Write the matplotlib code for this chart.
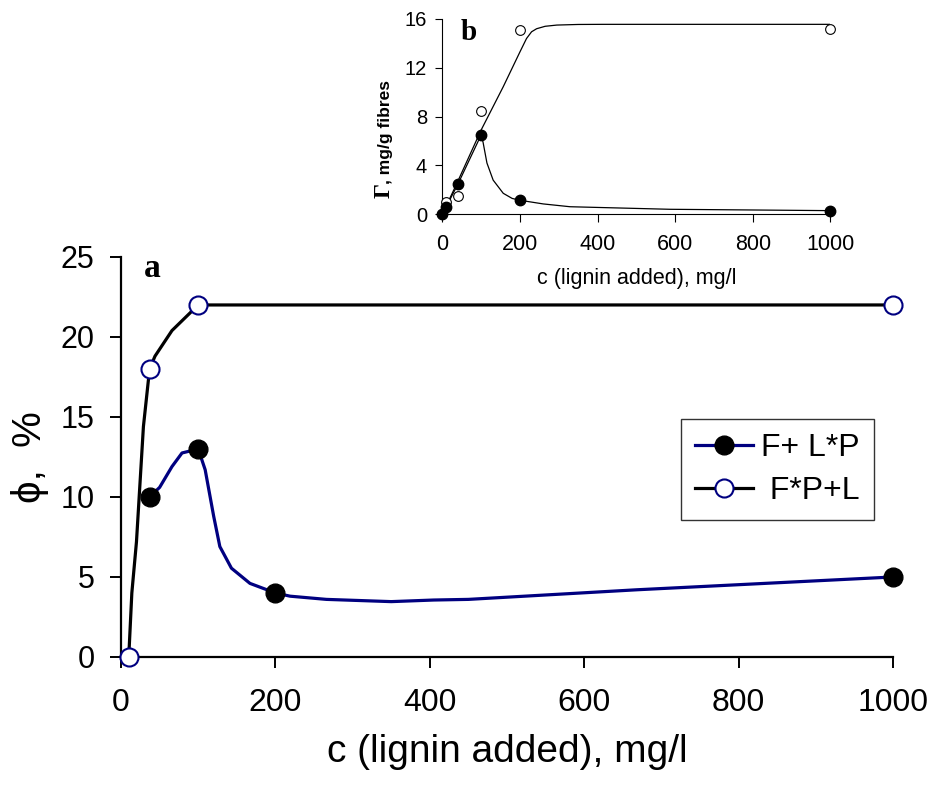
import matplotlib
matplotlib.use("Agg")
import matplotlib.pyplot as plt

plt.rcParams['font.family'] = ['Liberation Sans', 'DejaVu Sans']

# --- main plot (a): phi, % ---
# measured points
x_fpl = [10, 37, 100, 1000]
phi_fpl = [0, 18, 22, 22]            # F*P+L (open circles)
x_flp = [37, 100, 200, 1000]
phi_flp = [10, 13, 4, 5]             # F+ L*P (filled circles)

# smoothed curves as drawn in the figure
curve_fpl_x = [10, 14, 20, 29, 37, 44, 66, 100, 1000]
curve_fpl_y = [0, 4, 7.2, 14.4, 18, 18.8, 20.4, 22, 22]
curve_flp_x = [37, 50, 66, 79, 100, 109, 120, 128, 143, 167, 200, 219, 266, 350, 405, 450, 668, 1000]
curve_flp_y = [10, 10.6, 11.9, 12.75, 13, 11.7, 8.8, 6.9, 5.55, 4.6, 4, 3.8, 3.6, 3.46, 3.56, 3.6, 4.2, 5]

# --- inset (b): Gamma, mg/g fibres ---
x_in_flp = [0, 10, 40, 100, 200, 1000]
gamma_flp = [0, 0.6, 2.5, 6.5, 1.15, 0.3]
x_in_fpl = [10, 40, 100, 200, 1000]
gamma_fpl = [1.0, 1.5, 8.5, 15.1, 15.2]

curve_in_flp_x = [0, 40, 100, 105, 115, 131, 157, 180, 200, 260, 329, 587, 1000]
curve_in_flp_y = [0, 2.46, 6.5, 5.9, 4.2, 2.8, 1.72, 1.3, 1.15, 0.85, 0.62, 0.41, 0.3]
curve_in_fpl_x = [0, 37, 100, 157, 200, 217, 230, 243, 265, 295, 350, 415, 1000]
curve_in_fpl_y = [0, 2.5, 6.9, 10.45, 13.3, 14.4, 14.95, 15.2, 15.4, 15.5, 15.55, 15.56, 15.56]

x_ticks = [0, 200, 400, 600, 800, 1000]

NAVY = '#000080'

fig = plt.figure(figsize=(9.31, 7.87), dpi=100)

# main axes
ax = fig.add_axes([0.1300, 0.1652, 0.8292, 0.5083])
ax.plot(curve_fpl_x, curve_fpl_y, color='black', lw=2.3, zorder=2)
ax.plot(curve_flp_x, curve_flp_y, color=NAVY, lw=2.3, zorder=3)
ax.plot(x_fpl, phi_fpl, ls='none', marker='o', ms=13, mfc='white', mec=NAVY,
        mew=1.5, zorder=4, clip_on=False)
ax.plot(x_flp, phi_flp, ls='none', marker='o', ms=13.5, mfc='black', mec='black',
        zorder=5, clip_on=False)

# legend handles
h1, = ax.plot([], [], color=NAVY, lw=2.3, marker='o', ms=13.5, mfc='black', mec='black')
h2, = ax.plot([], [], color='black', lw=2.3, marker='o', ms=13, mfc='white', mec=NAVY, mew=1.5)
leg = ax.legend([h1, h2], ['F+ L*P', ' F*P+L'], loc='upper left',
                bbox_to_anchor=(0.725, 0.595), fontsize=23, frameon=True,
                fancybox=False, edgecolor='black', handlelength=1.8,
                handletextpad=0.25, borderpad=0.45, labelspacing=0.4,
                borderaxespad=0)
leg.get_frame().set_linewidth(1.0)

ax.set_xlim(0, 1000)
ax.set_ylim(0, 25)
ax.set_xticks(x_ticks)
ax.set_yticks([0, 5, 10, 15, 20, 25])
for s in ['top', 'right']:
    ax.spines[s].set_visible(False)
for s in ['left', 'bottom']:
    ax.spines[s].set_linewidth(1.6)
ax.tick_params(axis='y', direction='out', length=8, width=1.4, labelsize=22, pad=11)
ax.tick_params(axis='x', direction='out', length=8, width=1.4, labelsize=23, pad=14)
ax.set_xlabel('c (lignin added), mg/l', fontsize=28, labelpad=12)
ax.set_ylabel('ϕ,  %', fontsize=29, labelpad=8)
ax.text(0.03, 0.95, 'a', transform=ax.transAxes, fontsize=24, fontweight='bold',
        family='Liberation Serif', va='baseline', ha='left')

# inset axes
ai = fig.add_axes([0.4751, 0.7277, 0.4168, 0.2482])
ai.plot(curve_in_fpl_x, curve_in_fpl_y, color='black', lw=0.9, zorder=2)
ai.plot(curve_in_flp_x, curve_in_flp_y, color='black', lw=0.9, zorder=2)
ai.plot(x_in_fpl, gamma_fpl, ls='none', marker='o', ms=7, mfc='white', mec='black',
        mew=0.8, zorder=3, clip_on=False)
ai.plot(x_in_flp, gamma_flp, ls='none', marker='o', ms=7.5, mfc='black', mec='black',
        zorder=4, clip_on=False)
ai.set_xlim(0, 1000)
ai.set_ylim(0, 16)
ai.set_xticks(x_ticks)
ai.set_yticks([0, 4, 8, 12, 16])
for s in ['top', 'right']:
    ai.spines[s].set_visible(False)
for s in ['left', 'bottom']:
    ai.spines[s].set_linewidth(0.8)
ai.tick_params(axis='y', direction='out', length=5, width=0.8, labelsize=14.5, pad=6)
ai.tick_params(axis='x', direction='out', length=5.5, width=0.8, labelsize=15.5, pad=9)
ai.set_xlabel('c (lignin added), mg/l', fontsize=15.5, labelpad=9)
ai.text(-0.135, 0.083, 'Γ', transform=ai.transAxes, rotation=90, rotation_mode='anchor',
        fontsize=17, fontweight='bold', family='Liberation Serif', ha='left', va='baseline')
ai.text(-0.135, 0.155, ', mg/g fibres', transform=ai.transAxes, rotation=90,
        rotation_mode='anchor', fontsize=12.5, fontweight='bold', ha='left', va='baseline')
ai.text(0.046, 0.89, 'b', transform=ai.transAxes, fontsize=21, fontweight='bold',
        family='Liberation Serif', va='baseline', ha='left')

fig.savefig('out.png', dpi=100)
